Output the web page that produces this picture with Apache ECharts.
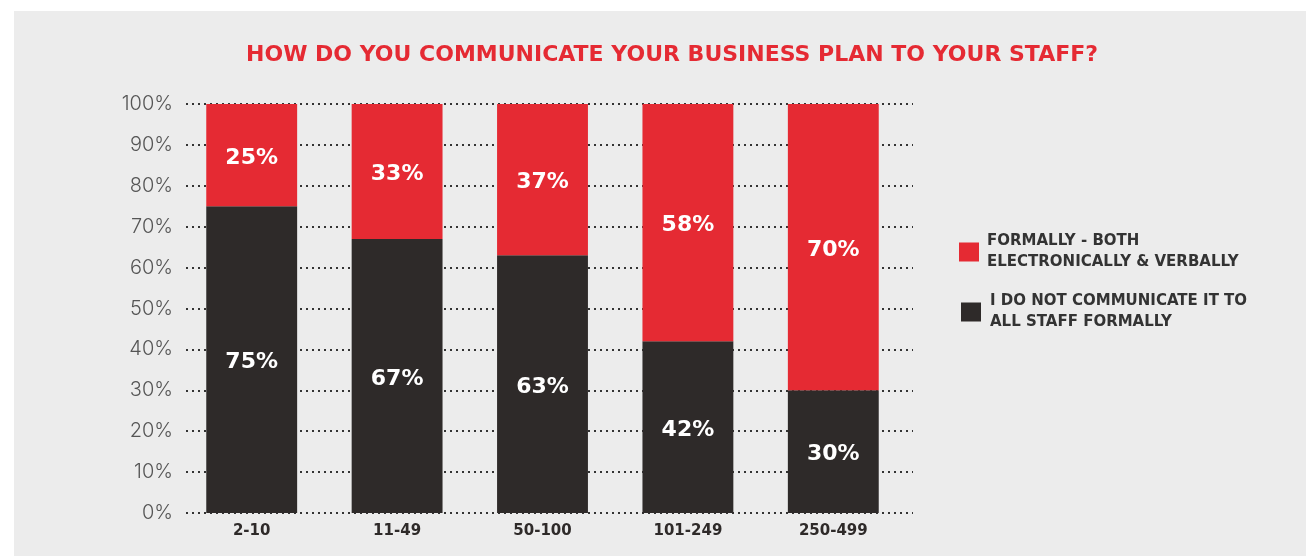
<!DOCTYPE html>
<html>
<head>
<meta charset="utf-8">
<script src="https://cdn.jsdelivr.net/npm/echarts@6/dist/echarts.min.js"></script>
<style>
  html, body { margin: 0; padding: 0; background: #ffffff; }
  #chart { width: 1306px; height: 556px; }
</style>
</head>
<body>
<div id="chart"></div>
<script>
// Company size bands (number of staff)
const categories = ['2-10', '11-49', '50-100', '101-249', '250-499'];
// Share of respondents per band, in percent
const formally = [25, 33, 37, 58, 70];
const notFormally = [75, 67, 63, 42, 30];
const seriesNames = ['FORMALLY - BOTH ELECTRONICALLY & VERBALLY', 'I DO NOT COMMUNICATE IT TO ALL STAFF FORMALLY'];
const legendLines = {
  'FORMALLY - BOTH ELECTRONICALLY & VERBALLY': 'FORMALLY - BOTH\nELECTRONICALLY & VERBALLY',
  'I DO NOT COMMUNICATE IT TO ALL STAFF FORMALLY': 'I DO NOT COMMUNICATE IT TO\nALL STAFF FORMALLY'
};
const yTicks = { min: 0, max: 100, interval: 10 };

const RED = '#e52a33';
const DARK = '#2e2a29';
const BOLD_FONT = '"DejaVu Sans", Inter, sans-serif';
const LIGHT_FONT = 'Inter, "Noto Sans", sans-serif';

const chart = echarts.init(document.getElementById('chart'), null, { renderer: 'canvas' });

const valueLabel = {
  show: true,
  position: 'inside',
  color: '#ffffff',
  fontFamily: BOLD_FONT,
  fontWeight: 'bold',
  fontSize: 22,
  offset: [0, 3],
  formatter: p => p.value + '%'
};

const legendText = {
  fontFamily: BOLD_FONT,
  fontWeight: 'bold',
  fontSize: 15,
  lineHeight: 21,
  color: '#333333',
  padding: [42, 0, 0, 4]
};

chart.setOption({
  backgroundColor: '#ffffff',
  animation: false,
  graphic: [{
    type: 'rect',
    z: -10,
    shape: { x: 14, y: 11, width: 1292, height: 545 },
    style: { fill: '#ececec' }
  }],
  title: {
    text: 'HOW DO YOU COMMUNICATE YOUR BUSINESS PLAN TO YOUR STAFF?',
    left: 667,
    textAlign: 'center',
    top: 39,
    textStyle: { color: RED, fontFamily: BOLD_FONT, fontWeight: 'bold', fontSize: 22 }
  },
  legend: [{
    data: [seriesNames[0]],
    left: 959,
    top: 210,
    padding: 0,
    itemWidth: 20,
    itemHeight: 19,
    icon: 'rect',
    formatter: n => legendLines[n],
    textStyle: Object.assign({}, legendText, { padding: [42, 0, 0, 3] }),
    selectedMode: false
  }, {
    data: [seriesNames[1]],
    left: 961,
    top: 270,
    padding: 0,
    itemWidth: 20,
    itemHeight: 19,
    icon: 'rect',
    formatter: n => legendLines[n],
    textStyle: legendText,
    selectedMode: false
  }],
  grid: [
    // dotted guide lines and percentage scale
    { left: 186, right: 393, top: 104, bottom: 43 },
    // bars
    { left: 179, right: 400, top: 104, bottom: 43 }
  ],
  xAxis: [
    { type: 'value', gridIndex: 0, show: false, min: 0, max: 1 },
    {
      type: 'category',
      gridIndex: 1,
      data: categories,
      axisLine: { show: false },
      axisTick: { show: false },
      axisLabel: {
        margin: 11,
        color: DARK,
        fontFamily: BOLD_FONT,
        fontWeight: 'bold',
        fontSize: 15
      }
    }
  ],
  yAxis: [
    {
      type: 'value',
      gridIndex: 0,
      min: yTicks.min,
      max: yTicks.max,
      interval: yTicks.interval,
      axisLine: { show: false },
      axisTick: { show: false },
      axisLabel: {
        margin: 13,
        formatter: '{value}%',
        color: '#555555',
        fontFamily: LIGHT_FONT,
        fontWeight: 300,
        fontSize: 20
      },
      splitLine: {
        show: true,
        lineStyle: { color: '#333333', width: 2, type: [2, 4] }
      }
    },
    {
      type: 'value',
      gridIndex: 1,
      min: yTicks.min,
      max: yTicks.max,
      interval: yTicks.interval,
      show: false,
      splitLine: { show: false }
    }
  ],
  series: [
    {
      name: seriesNames[1],
      type: 'bar',
      xAxisIndex: 1,
      yAxisIndex: 1,
      stack: 'total',
      barWidth: '62.5%',
      data: notFormally,
      itemStyle: { color: DARK },
      label: valueLabel
    },
    {
      name: seriesNames[0],
      type: 'bar',
      xAxisIndex: 1,
      yAxisIndex: 1,
      stack: 'total',
      barWidth: '62.5%',
      data: formally,
      itemStyle: { color: RED },
      label: valueLabel
    }
  ]
});
</script>
</body>
</html>
